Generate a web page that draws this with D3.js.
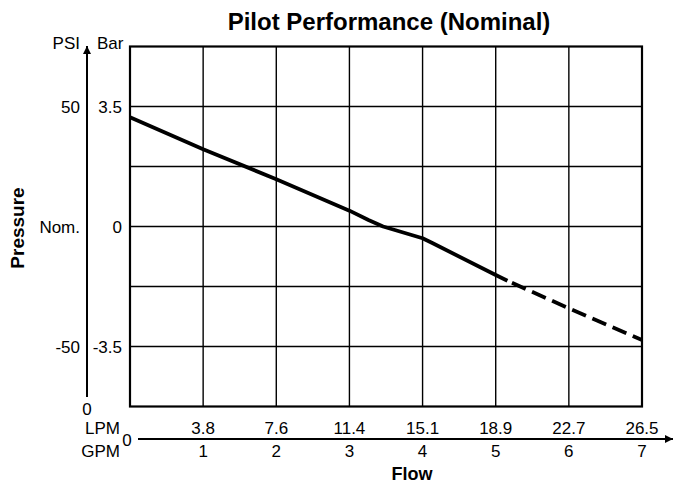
<!DOCTYPE html>
<html>
<head>
<meta charset="utf-8">
<script src="https://cdn.jsdelivr.net/npm/d3@7"></script>
<style>
  html, body { margin: 0; padding: 0; background: #fff; }
  svg { display: block; font-family: "Liberation Sans", Arial, Helvetica, sans-serif; }
</style>
</head>
<body>
<svg id="chart" width="673" height="484"></svg>
<script>
// Flow axis: GPM positions with matching LPM labels
const gpmTicks = [1, 2, 3, 4, 5, 6, 7];
const lpmLabels = ["3.8", "7.6", "11.4", "15.1", "18.9", "22.7", "26.5"];

// Pressure axis: PSI ticks with their labels, and Bar equivalents
const psiTicks = [50, 0, -50];
const psiLabels = ["50", "Nom.", "-50"];
const barTicks = [3.5, 0, -3.5];
const barLabels = ["3.5", "0", "-3.5"];
const psiGrid = [-50, -25, 0, 25, 50];

// Pilot curve (GPM vs PSI): measured part drawn solid, extrapolated part dashed
const solidFlow = [0, 1, 2, 3, 3.26, 3.46, 4, 4.14, 5, 5.16];
const solidPsi  = [45.5, 32.2, 19.7, 6.6, 2.7, 0, -4.9, -7.0, -20.2, -22.6];
const dashFlow  = [5.16, 6, 7];
const dashPsi   = [-22.6, -34.1, -47.3];

const svg = d3.select("#chart");
const plot = { left: 130, right: 642, top: 46.5, bottom: 406.5 };
const fs = 17;

const x = d3.scaleLinear().domain([0, 7]).range([plot.left, plot.right]);
const y = d3.scaleLinear().domain([-75, 75]).range([plot.bottom, plot.top]);
const yBar = d3.scaleLinear().domain([-5.25, 5.25]).range([plot.bottom, plot.top]);

// Arrowhead marker
const defs = svg.append("defs");
defs.append("marker")
  .attr("id", "arrow")
  .attr("viewBox", "0 0 10 10")
  .attr("refX", 10).attr("refY", 5)
  .attr("markerWidth", 10).attr("markerHeight", 8)
  .attr("markerUnits", "userSpaceOnUse")
  .attr("orient", "auto")
  .append("path").attr("d", "M0,0 L10,5 L0,10 Z").attr("fill", "#000");

// Title
svg.append("text")
  .attr("x", 389).attr("y", 30)
  .attr("text-anchor", "middle")
  .attr("font-size", 24).attr("font-weight", "bold")
  .text("Pilot Performance (Nominal)");

// Grid
const g = svg.append("g");
g.selectAll("line.h").data(psiGrid).join("line")
  .attr("class", "h")
  .attr("x1", plot.left).attr("x2", plot.right)
  .attr("y1", d => y(d)).attr("y2", d => y(d))
  .attr("stroke", "#000").attr("stroke-width", 1.4);
g.selectAll("line.v").data(gpmTicks.slice(0, -1)).join("line")
  .attr("class", "v")
  .attr("x1", d => x(d)).attr("x2", d => x(d))
  .attr("y1", plot.top).attr("y2", plot.bottom)
  .attr("stroke", "#000").attr("stroke-width", 1.4);
g.append("rect")
  .attr("x", plot.left).attr("y", plot.top)
  .attr("width", plot.right - plot.left).attr("height", plot.bottom - plot.top)
  .attr("fill", "none").attr("stroke", "#000").attr("stroke-width", 2.2);

// Pressure axis arrow and labels
svg.append("line")
  .attr("x1", 87).attr("x2", 87).attr("y1", 397).attr("y2", 46)
  .attr("stroke", "#000").attr("stroke-width", 2)
  .attr("marker-end", "url(#arrow)");

svg.append("text").attr("x", 80).attr("y", 49).attr("text-anchor", "end")
  .attr("font-size", fs).text("PSI");
svg.append("text").attr("x", 97).attr("y", 49).attr("text-anchor", "start")
  .attr("font-size", fs).text("Bar");

svg.selectAll("text.psi").data(psiTicks).join("text")
  .attr("class", "psi")
  .attr("x", 80).attr("y", d => y(d) + 6)
  .attr("text-anchor", "end").attr("font-size", fs)
  .text((d, i) => psiLabels[i]);
svg.selectAll("text.bar").data(barTicks).join("text")
  .attr("class", "bar")
  .attr("x", 122).attr("y", d => yBar(d) + 6)
  .attr("text-anchor", "end").attr("font-size", fs)
  .text((d, i) => barLabels[i]);

svg.append("text").attr("x", 87).attr("y", 415).attr("text-anchor", "middle")
  .attr("font-size", fs).text("0");

svg.append("text")
  .attr("transform", "translate(24,228) rotate(-90)")
  .attr("text-anchor", "middle")
  .attr("font-size", 19).attr("font-weight", "bold")
  .text("Pressure");

// Flow axis arrow and labels
const flowY = 439;
svg.append("line")
  .attr("x1", 138).attr("x2", 673).attr("y1", flowY).attr("y2", flowY)
  .attr("stroke", "#000").attr("stroke-width", 2)
  .attr("marker-end", "url(#arrow)");

svg.append("text").attr("x", 120).attr("y", 434).attr("text-anchor", "end")
  .attr("font-size", fs).text("LPM");
svg.append("text").attr("x", 120).attr("y", 457).attr("text-anchor", "end")
  .attr("font-size", fs).text("GPM");
svg.append("text").attr("x", 127).attr("y", 446).attr("text-anchor", "middle")
  .attr("font-size", fs).text("0");

svg.selectAll("text.lpm").data(gpmTicks).join("text")
  .attr("class", "lpm")
  .attr("x", d => x(d)).attr("y", 434)
  .attr("text-anchor", "middle").attr("font-size", fs)
  .text((d, i) => lpmLabels[i]);
svg.selectAll("text.gpm").data(gpmTicks).join("text")
  .attr("class", "gpm")
  .attr("x", d => x(d)).attr("y", 457)
  .attr("text-anchor", "middle").attr("font-size", fs)
  .text(d => d);

svg.append("text").attr("x", 412).attr("y", 480).attr("text-anchor", "middle")
  .attr("font-size", 18).attr("font-weight", "bold").text("Flow");

// Pilot curve
const line = d3.line().x(d => x(d[0])).y(d => y(d[1]));
svg.append("path")
  .datum(solidFlow.map((f, i) => [f, solidPsi[i]]))
  .attr("d", line)
  .attr("fill", "none").attr("stroke", "#000")
  .attr("stroke-width", 3.8).attr("stroke-linejoin", "round");
svg.append("path")
  .datum(dashFlow.map((f, i) => [f, dashPsi[i]]))
  .attr("d", line)
  .attr("fill", "none").attr("stroke", "#000")
  .attr("stroke-width", 3.8).attr("stroke-dasharray", "15,7")
  .attr("stroke-dashoffset", -5);
</script>
</body>
</html>
